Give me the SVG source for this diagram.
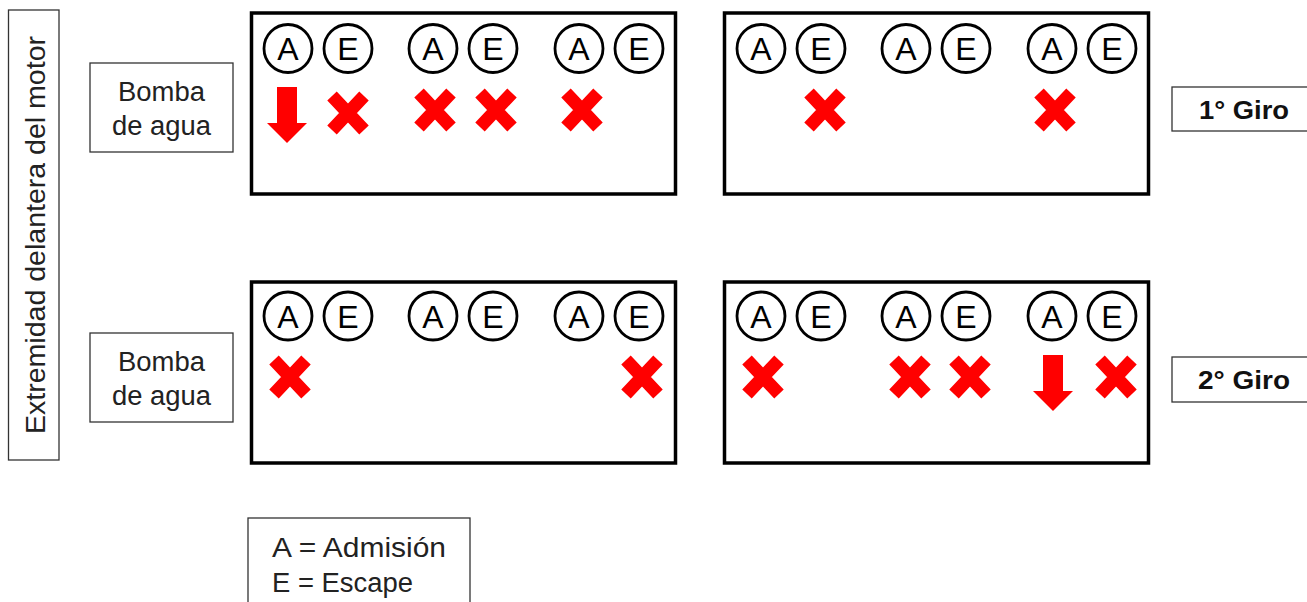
<svg xmlns="http://www.w3.org/2000/svg" width="1307" height="602" viewBox="0 0 1307 602">
<style>
.panel{fill:#fff;stroke:#000;stroke-width:3.5}
.box{fill:#fff;stroke:#333;stroke-width:1.3}
.valve{fill:#fff;stroke:#000;stroke-width:2.8}
.vt{font-family:"Liberation Sans",Arial,sans-serif;font-size:32px;fill:#000;text-anchor:middle}
.lbl{font-family:"Liberation Sans",Arial,sans-serif;font-size:27px;fill:#222}
.giro{font-family:"Liberation Sans",Arial,sans-serif;font-size:26px;font-weight:bold;fill:#111}
.x{stroke:#f00;stroke-width:13;fill:none}
.arr{fill:#f00}
</style>
<defs>
<g id="X"><path class="x" d="M-16,-17L16,17M16,-17L-16,17"/></g>
<polygon id="ARR" class="arr" points="-10,0 10,0 10,36 20,36 0,56 -20,36 -10,36"/>
<g id="AE">
<circle class="valve" cx="0" cy="0" r="24"/><text class="vt" x="0" y="11.5">A</text>
<circle class="valve" cx="60" cy="0" r="24"/><text class="vt" x="60" y="11.5">E</text>
</g>
<g id="ROW">
<use href="#AE" x="0"/><use href="#AE" x="145"/><use href="#AE" x="291"/>
</g>
</defs>

<g id="front-label">
<rect class="box" x="8.5" y="10" width="50.5" height="450"/>
<text class="lbl" transform="translate(45,235) rotate(-90)" text-anchor="middle" textLength="398" lengthAdjust="spacingAndGlyphs">Extremidad delantera del motor</text>
</g>

<g id="pump-top">
<rect class="box" x="90" y="63" width="143" height="89"/>
<text class="lbl" x="161.5" y="101" text-anchor="middle" textLength="87" lengthAdjust="spacingAndGlyphs">Bomba</text>
<text class="lbl" x="161.5" y="135" text-anchor="middle" textLength="99" lengthAdjust="spacingAndGlyphs">de agua</text>
</g>
<g id="pump-bottom">
<rect class="box" x="90" y="333" width="143" height="89"/>
<text class="lbl" x="161.5" y="371" text-anchor="middle" textLength="87" lengthAdjust="spacingAndGlyphs">Bomba</text>
<text class="lbl" x="161.5" y="405" text-anchor="middle" textLength="99" lengthAdjust="spacingAndGlyphs">de agua</text>
</g>

<g id="panel-1">
<rect class="panel" x="251.5" y="13" width="424" height="181"/>
<use href="#ROW" x="288" y="48.5"/>
<use href="#ARR" x="287" y="87"/>
<use href="#X" x="348" y="113"/>
<use href="#X" x="435" y="110"/>
<use href="#X" x="496" y="110"/>
<use href="#X" x="582" y="110"/>
</g>

<g id="panel-2">
<rect class="panel" x="724.5" y="13" width="424" height="181"/>
<use href="#ROW" x="761" y="48.5"/>
<use href="#X" x="825" y="110"/>
<use href="#X" x="1055" y="110"/>
</g>

<g id="panel-3">
<rect class="panel" x="251.5" y="282" width="424" height="181"/>
<use href="#ROW" x="288" y="316"/>
<use href="#X" x="290" y="377"/>
<use href="#X" x="642" y="377"/>
</g>

<g id="panel-4">
<rect class="panel" x="724.5" y="282" width="424" height="181"/>
<use href="#ROW" x="761" y="316"/>
<use href="#X" x="763" y="377"/>
<use href="#X" x="910" y="377"/>
<use href="#X" x="970" y="377"/>
<use href="#ARR" x="1053" y="355"/>
<use href="#X" x="1116" y="377"/>
</g>

<g id="giro-1">
<rect class="box" x="1172" y="87" width="150" height="44"/>
<text class="giro" x="1199" y="119" textLength="90" lengthAdjust="spacingAndGlyphs">1° Giro</text>
</g>
<g id="giro-2">
<rect class="box" x="1172" y="357" width="150" height="45"/>
<text class="giro" x="1198" y="389" textLength="92" lengthAdjust="spacingAndGlyphs">2° Giro</text>
</g>

<g id="legend">
<rect class="box" x="248" y="518" width="222" height="100"/>
<text class="lbl" x="272" y="557" textLength="174" lengthAdjust="spacingAndGlyphs">A = Admisión</text>
<text class="lbl" x="272" y="592" textLength="141" lengthAdjust="spacingAndGlyphs">E = Escape</text>
</g>

<g id="connectors"/>
</svg>
